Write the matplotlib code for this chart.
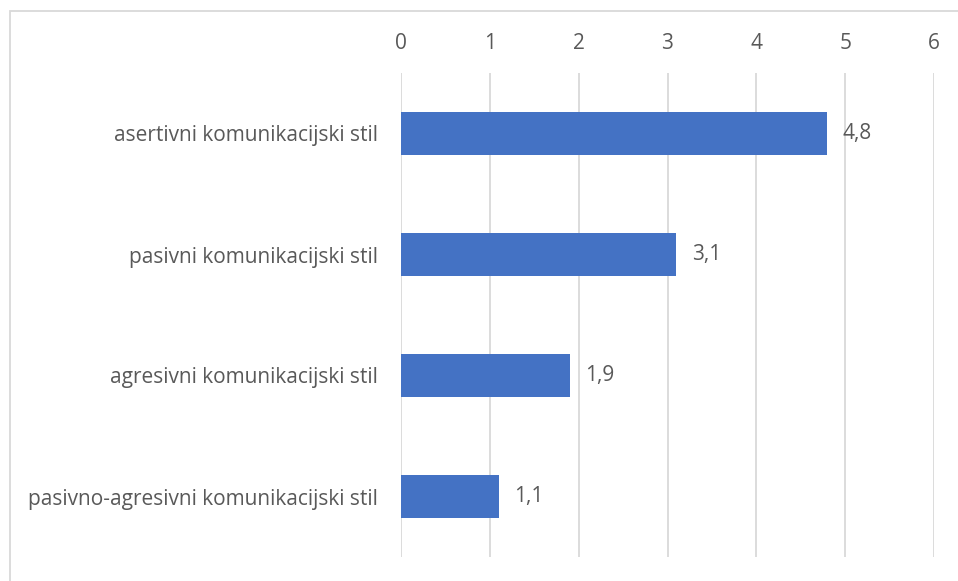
import matplotlib.pyplot as plt
import matplotlib.patches as mpatches

categories = ["asertivni komunikacijski stil",
              "pasivni komunikacijski stil",
              "agresivni komunikacijski stil",
              "pasivno-agresivni komunikacijski stil"]
values = [4.8, 3.1, 1.9, 1.1]
value_labels = ["4,8", "3,1", "1,9", "1,1"]
xticks = [0, 1, 2, 3, 4, 5, 6]

plt.rcParams['font.family'] = ['Open Sans', 'DejaVu Sans']
text_color = '#595959'
grid_color = '#d9d9d9'
bar_color = '#4472c4'
fsize = 15

fig = plt.figure(figsize=(9.58, 5.81), dpi=100)
ax = fig.add_axes([401 / 958, 1 - 557 / 581, 533 / 958, 484 / 581])

pos = list(range(len(categories)))
ax.barh(pos, values, height=0.355, color=bar_color, zorder=3)
ax.set_ylim(len(categories) - 0.5, -0.5)
ax.set_xlim(0, 6)

ax.set_xticks(xticks)
ax.set_xticklabels([str(t) for t in xticks])
ax.xaxis.tick_top()
ax.tick_params(axis='x', length=0, pad=14, labelsize=fsize, colors=text_color)
ax.set_yticks(pos)
ax.set_yticklabels(categories)
ax.tick_params(axis='y', length=0, pad=16.5, labelsize=fsize, colors=text_color)

ax.grid(axis='x', color=grid_color, linewidth=1.3, zorder=0)
for s in ax.spines.values():
    s.set_visible(False)

for p, v, lab in zip(pos, values, value_labels):
    ax.annotate(lab, (v, p), xytext=(11, 0), textcoords='offset points',
                va='center', ha='left', fontsize=fsize, color=text_color)

# chart area outline
fig.patches.append(mpatches.Rectangle((10 / 958, -0.02), 1.0, 1 - 11 / 581 + 0.02,
                                      transform=fig.transFigure, fill=False,
                                      edgecolor=grid_color, linewidth=1.3))

fig.savefig('out.png', dpi=100)
